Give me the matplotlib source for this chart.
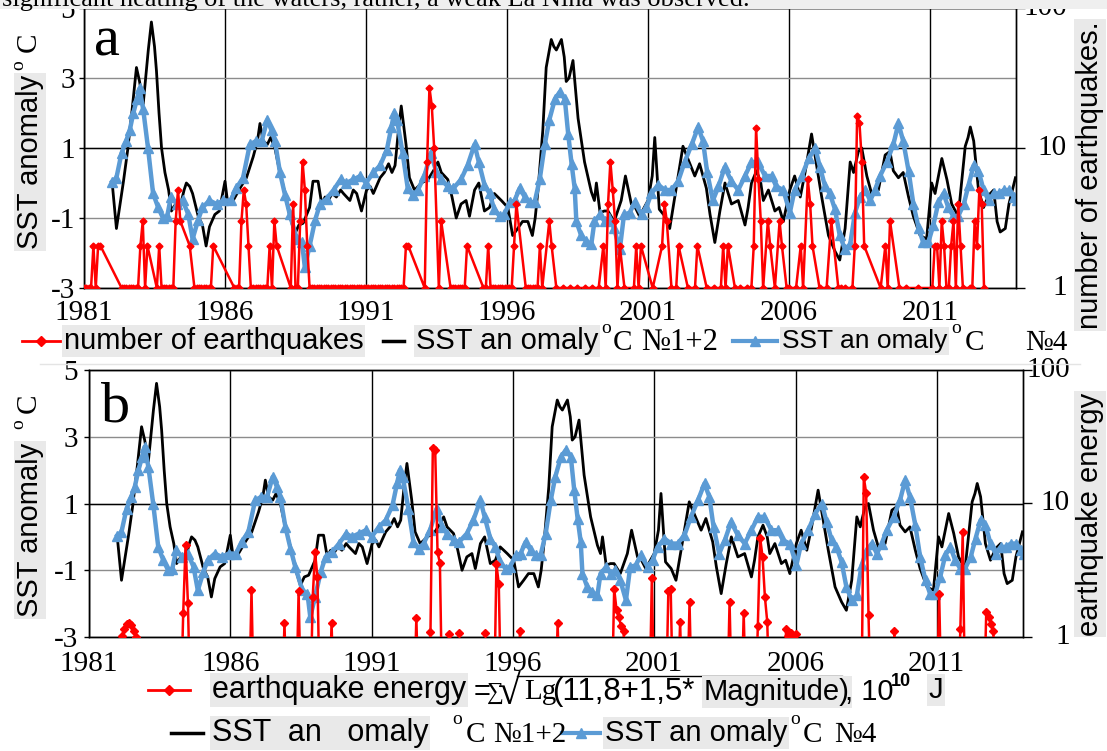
import numpy as np
import matplotlib
matplotlib.use("Agg")
import matplotlib.pyplot as plt
from matplotlib.ticker import NullLocator
from matplotlib.lines import Line2D
from matplotlib.patches import Rectangle
from matplotlib.transforms import blended_transform_factory

W, H = 1107, 751
SANS = ['Liberation Sans', 'DejaVu Sans']
SERIF = ['Liberation Serif', 'DejaVu Serif']
RED = '#ff0000'
BLUE = '#5b9bd5'
GREYBOX = '#e9e9e9'

# ---------------- data ----------------
tick_years = [1981, 1986, 1991, 1996, 2001, 2006, 2011]
tick_year_labels = ['1981', '1986', '1991', '1996', '2001', '2006', '2011']
sst_ticks = [-3, -1, 1, 3, 5]
sst_tick_labels = ['-3', '-1', '1', '3', '5']
eq_ticks = [1, 10, 100]
eq_tick_labels = ['1', '10', '100']

# SST anomaly Nino 1+2 (year, deg C)
nino12 = [
    (1982.00, 0.0), (1982.15, -1.3), (1982.40, 0.05), (1982.55, 0.95), (1982.72, 2.2),
    (1982.86, 3.3), (1982.97, 2.9), (1983.10, 2.26), (1983.28, 3.8), (1983.39, 4.6),
    (1983.50, 3.9), (1983.57, 3.2), (1983.66, 2.0), (1983.75, 1.0), (1983.87, 0.3),
    (1984.00, -0.2), (1984.10, -0.8), (1984.25, -0.6), (1984.40, -0.7), (1984.55, -0.2),
    (1984.63, 0.0), (1984.75, -0.1), (1984.85, -0.3), (1985.05, -0.95), (1985.20, -1.2),
    (1985.33, -1.8), (1985.45, -1.25), (1985.64, -0.9), (1985.80, -0.8), (1986.00, 0.05),
    (1986.10, -0.6), (1986.29, -0.5), (1986.53, -0.15), (1986.76, 0.15), (1987.00, 0.75),
    (1987.15, 1.2), (1987.24, 1.7), (1987.35, 1.2), (1987.50, 1.1), (1987.62, 1.3),
    (1987.77, 1.0), (1987.92, 0.4), (1988.07, -0.1), (1988.30, -0.95), (1988.48, -1.45),
    (1988.62, -1.2), (1988.77, -1.15), (1989.00, -0.7), (1989.12, 0.05), (1989.30, 0.05),
    (1989.43, -0.6), (1989.55, -0.4), (1989.66, -0.5), (1989.80, -0.3), (1989.95, -0.4),
    (1990.10, -0.2), (1990.20, -0.3), (1990.43, -0.5), (1990.55, -0.2), (1990.67, -0.3),
    (1990.84, -0.8), (1991.02, -0.2), (1991.15, -0.1), (1991.26, -0.3), (1991.50, 0.15),
    (1991.65, 0.3), (1991.80, 0.55), (1991.92, 0.3), (1992.03, 0.5), (1992.15, 1.5),
    (1992.25, 2.2), (1992.42, 1.1), (1992.54, 0.15), (1992.72, -0.2), (1992.85, -0.1),
    (1992.96, 0.0), (1993.20, 0.1), (1993.43, 0.4), (1993.55, 0.6), (1993.67, 0.3),
    (1993.90, 0.1), (1994.05, -0.4), (1994.20, -1.0), (1994.37, -0.6), (1994.55, -0.5),
    (1994.67, -0.95), (1994.85, -0.2), (1995.00, 0.0), (1995.20, -0.8), (1995.38, -0.7),
    (1995.55, -0.3), (1995.80, -0.5), (1996.03, -0.7), (1996.20, -1.5), (1996.38, -1.3),
    (1996.55, -1.1), (1996.74, -1.1), (1996.90, -1.5), (1997.00, -1.0), (1997.10, -0.2),
    (1997.27, 1.5), (1997.39, 3.3), (1997.57, 4.1), (1997.66, 3.9), (1997.75, 3.8),
    (1997.93, 4.1), (1998.03, 3.6), (1998.10, 2.9), (1998.20, 3.0), (1998.34, 3.5),
    (1998.52, 1.85), (1998.75, 0.6), (1998.99, -0.25), (1999.10, -0.5), (1999.17, 0.0),
    (1999.30, -0.85), (1999.45, -0.8), (1999.58, -0.8), (1999.80, -1.1), (2000.05, -0.5),
    (2000.20, 0.2), (2000.41, -0.6), (2000.55, -0.7), (2000.70, -0.95), (2001.00, -0.5),
    (2001.15, 0.2), (2001.24, 1.3), (2001.40, -0.75), (2001.60, -0.95), (2001.77, -1.3),
    (2002.00, -0.15), (2002.24, 1.05), (2002.41, 0.7), (2002.66, 0.2), (2002.83, 0.55),
    (2003.07, -0.15), (2003.20, -0.9), (2003.37, -1.7), (2003.55, -0.8), (2003.73, 0.0),
    (2003.96, -0.6), (2004.20, -0.5), (2004.44, -1.2), (2004.55, -0.7), (2004.67, 0.0),
    (2004.85, 0.35), (2005.00, 0.0), (2005.09, -0.5), (2005.27, -0.2), (2005.50, -0.8),
    (2005.65, -0.7), (2005.80, -1.1), (2006.03, -0.2), (2006.20, 0.2), (2006.40, -0.4),
    (2006.57, 0.3), (2006.80, 1.4), (2006.98, 0.5), (2007.16, -0.4), (2007.40, -1.5),
    (2007.63, -1.95), (2007.80, -2.2), (2007.99, -1.3), (2008.17, 0.6), (2008.29, 0.3),
    (2008.46, 0.9), (2008.58, 1.0), (2008.76, 0.2), (2008.93, -0.3), (2009.17, -0.2),
    (2009.41, 0.8), (2009.58, 0.9), (2009.70, 0.35), (2009.88, 0.15), (2010.05, 0.3),
    (2010.24, -0.4), (2010.41, -0.95), (2010.65, -1.5), (2010.88, -1.6), (2011.06, 0.0),
    (2011.18, -0.3), (2011.42, 0.7), (2011.60, 0.1), (2011.77, -0.6), (2012.00, -0.95),
    (2012.25, 1.05), (2012.35, 1.3), (2012.43, 1.6), (2012.55, 1.2), (2012.72, -0.2),
    (2012.90, -0.7), (2013.08, -0.35), (2013.26, -0.2), (2013.38, -1.1), (2013.49, -1.4),
    (2013.67, -1.3), (2013.80, -0.6), (2014.03, 0.15),
]

# SST anomaly Nino 4 (year, deg C)
nino4 = [
    (1982.00, 0.04), (1982.15, 0.15), (1982.33, 0.85), (1982.50, 1.2), (1982.62, 1.5),
    (1982.75, 2.0), (1982.88, 2.4), (1982.97, 2.7), (1983.10, 2.1), (1983.27, 1.0),
    (1983.45, -0.3), (1983.63, -0.7), (1983.80, -1.0), (1983.95, -0.95), (1984.08, -0.4),
    (1984.30, -0.6), (1984.50, -0.5), (1984.70, -0.9), (1984.85, -1.6), (1985.05, -1.05),
    (1985.20, -0.7), (1985.45, -0.5), (1985.70, -0.6), (1985.94, -0.5), (1986.20, -0.5),
    (1986.40, -0.15), (1986.64, 0.15), (1986.88, 1.1), (1987.10, 1.2), (1987.30, 1.2),
    (1987.50, 1.8), (1987.65, 1.5), (1987.77, 1.2), (1987.95, 0.3), (1988.13, -0.35),
    (1988.30, -0.9), (1988.55, -1.6), (1988.73, -1.7), (1988.83, -2.4), (1989.00, -1.8),
    (1989.20, -1.05), (1989.37, -0.6), (1989.60, -0.45), (1989.85, -0.2), (1990.10, 0.1),
    (1990.30, 0.0), (1990.55, 0.1), (1990.80, 0.2), (1991.00, 0.0), (1991.26, 0.3),
    (1991.50, 0.5), (1991.74, 0.95), (1991.90, 1.6), (1992.00, 2.0), (1992.10, 1.8),
    (1992.30, 0.85), (1992.48, -0.15), (1992.66, -0.35), (1992.84, -0.2), (1993.07, 0.2),
    (1993.30, 0.85), (1993.50, 0.3), (1993.67, 0.1), (1993.90, -0.1), (1994.10, -0.15),
    (1994.37, 0.1), (1994.60, 0.5), (1994.85, 1.1), (1995.00, 0.6), (1995.20, -0.05),
    (1995.38, -0.3), (1995.55, -0.75), (1995.74, -0.95), (1995.90, -0.9), (1996.10, -0.55),
    (1996.27, -0.5), (1996.45, -0.15), (1996.63, -0.4), (1996.80, -0.55), (1996.98, -0.55),
    (1997.16, 0.1), (1997.34, 1.1), (1997.50, 1.8), (1997.70, 2.4), (1997.87, 2.6),
    (1998.05, 2.4), (1998.17, 1.4), (1998.29, 0.55), (1998.40, -0.15), (1998.46, -1.1),
    (1998.63, -1.5), (1998.80, -1.65), (1998.99, -1.75), (1999.10, -1.1), (1999.30, -0.9),
    (1999.46, -1.1), (1999.63, -1.0), (1999.80, -1.3), (2000.00, -1.9), (2000.15, -0.9),
    (2000.35, -0.85), (2000.53, -0.55), (2000.77, -0.9), (2000.94, -0.7), (2001.12, -0.3),
    (2001.36, -0.05), (2001.60, -0.2), (2001.83, -0.2), (2002.07, 0.05), (2002.30, 0.6),
    (2002.55, 1.1), (2002.78, 1.6), (2002.95, 1.2), (2003.10, 0.3), (2003.30, -0.5),
    (2003.50, -0.1), (2003.72, 0.45), (2003.96, 0.05), (2004.20, -0.2), (2004.44, 0.2),
    (2004.67, 0.6), (2004.90, 0.6), (2005.15, 0.2), (2005.38, 0.2), (2005.55, -0.1),
    (2005.80, -0.2), (2006.03, -0.85), (2006.20, -0.2), (2006.45, 0.2), (2006.70, 0.7),
    (2006.93, 1.0), (2007.10, 0.45), (2007.28, -0.1), (2007.45, -0.3), (2007.63, -0.75),
    (2007.80, -1.5), (2007.99, -1.9), (2008.17, -1.75), (2008.34, -0.85), (2008.52, -0.4),
    (2008.70, -0.2), (2008.88, -0.5), (2009.05, -0.2), (2009.23, 0.2), (2009.47, 0.6),
    (2009.70, 1.1), (2009.88, 1.7), (2010.05, 1.2), (2010.24, 0.35), (2010.41, -0.6),
    (2010.60, -1.3), (2010.76, -1.7), (2010.94, -1.7), (2011.12, -1.2), (2011.30, -0.55),
    (2011.48, -0.3), (2011.65, -0.7), (2011.83, -0.95), (2012.00, -0.95), (2012.20, -0.6),
    (2012.37, -0.05), (2012.55, 0.5), (2012.72, 0.35), (2012.90, -0.2), (2013.08, -0.5),
    (2013.26, -0.3), (2013.44, -0.3), (2013.62, -0.2), (2013.80, -0.2), (2013.97, -0.4),
    (2014.10, -0.5),
]

# monthly number of earthquakes, Jan 1981 .. Dec 2013 (0 = no event, not drawn on log axis)
eq_first_year = 1981
eq_count = [
    [1, 1, 1, 1, 2, 1, 2, 2, 0, 0, 0, 0],   # 1981
    [0, 0, 0, 0, 1, 1, 1, 1, 1, 1, 1, 1],   # 1982
    [2, 3, 1, 2, 0, 0, 0, 1, 2, 1, 1, 1],   # 1983
    [1, 1, 1, 3, 5, 3, 0, 0, 0, 2, 0, 1],   # 1984
    [1, 1, 1, 1, 1, 1, 1, 2, 0, 0, 0, 0],   # 1985
    [0, 0, 0, 0, 1, 1, 1, 3, 5, 4, 2, 1],   # 1986
    [1, 1, 1, 1, 1, 1, 1, 2, 1, 3, 2, 0],   # 1987
    [0, 0, 0, 0, 1, 4, 1, 1, 3, 8, 5, 2],   # 1988
    [1, 1, 1, 1, 1, 1, 1, 1, 1, 1, 1, 1],   # 1989
    [1, 1, 1, 1, 1, 1, 1, 1, 1, 1, 1, 1],   # 1990
    [1, 1, 1, 1, 1, 1, 1, 1, 1, 1, 1, 1],   # 1991
    [1, 1, 1, 1, 1, 2, 2, 0, 0, 0, 0, 0],   # 1992
    [0, 1, 8, 27, 20, 10, 0, 1, 3, 0, 0, 0],  # 1993
    [1, 1, 1, 1, 1, 1, 1, 2, 0, 0, 0, 0],   # 1994
    [0, 0, 1, 1, 2, 1, 1, 1, 1, 1, 1, 1],   # 1995
    [1, 1, 1, 2, 4, 0, 0, 0, 1, 1, 1, 1],   # 1996
    [1, 1, 2, 1, 0, 0, 3, 2, 0, 1, 0, 0],   # 1997
    [1, 0, 0, 1, 0, 0, 1, 0, 0, 1, 0, 0],   # 1998
    [1, 0, 0, 1, 0, 2, 1, 4, 8, 5, 3, 1],   # 1999
    [2, 0, 1, 0, 0, 0, 1, 2, 1, 2, 0, 0],   # 2000
    [0, 0, 1, 0, 0, 0, 2, 4, 3, 0, 1, 0],   # 2001
    [1, 2, 0, 0, 0, 1, 0, 0, 1, 2, 0, 0],   # 2002
    [0, 1, 0, 0, 1, 0, 0, 1, 2, 1, 2, 0],   # 2003
    [0, 1, 0, 1, 0, 0, 1, 0, 1, 2, 14, 6],  # 2004
    [3, 1, 0, 3, 2, 0, 1, 0, 3, 2, 0, 1],   # 2005
    [1, 0, 0, 1, 0, 2, 1, 0, 6, 4, 2, 0],   # 2006
    [0, 1, 0, 0, 1, 0, 3, 0, 0, 1, 1, 0],   # 2007
    [1, 0, 0, 1, 2, 17, 15, 8, 2, 0, 0, 0],  # 2008
    [0, 0, 0, 1, 0, 2, 1, 3, 0, 0, 0, 1],   # 2009
    [0, 0, 1, 0, 0, 0, 0, 1, 0, 0, 0, 0],   # 2010
    [0, 1, 2, 2, 1, 3, 2, 1, 1, 2, 3, 1],   # 2011
    [4, 2, 1, 0, 0, 1, 1, 3, 2, 5, 4, 1],   # 2012
    [0, 0, 0, 0, 0, 0, 0, 0, 0, 0, 0, 0],   # 2013
]

# earthquake energy (months since Jan 1981, value); 0.3 = below the axis minimum
eq_energy_month = [12, 14, 15, 16, 17, 18, 19, 20, 21,
                   39, 40, 41, 42, 43,
                   68, 69, 70,
                   82, 83, 84,
                   88, 89, 90,
                   94, 95, 96, 97, 98,
                   102, 103, 104,
                   138, 139, 140,
                   144, 145, 146, 147, 148, 149, 150,
                   152, 153, 154,
                   156, 157, 158,
                   167, 168, 169,
                   172, 173, 174, 175,
                   182, 183, 184,
                   198, 199, 200,
                   222, 223, 224, 225, 226, 227, 228,
                   238, 239, 240,
                   245, 246, 247, 248,
                   250, 251, 252,
                   254, 255, 256,
                   271, 272, 273,
                   277, 278, 279,
                   283, 284, 285, 286, 287, 288, 289,
                   295, 296, 297, 298, 299, 300, 301,
                   328, 329, 330, 331, 332,
                   341, 342, 343,
                   360, 361, 362,
                   369, 370, 371, 372,
                   380, 381, 382, 383, 384, 385]
eq_energy_val = [0.3, 1.02, 1.15, 1.25, 1.27, 1.22, 1.1, 1.0, 0.3,
                 0.3, 1.5, 4.9, 1.8, 0.3,
                 0.3, 2.25, 0.3,
                 0.3, 1.27, 0.3,
                 0.3, 2.2, 0.3,
                 0.3, 2.0, 4.3, 2.8, 0.3,
                 0.3, 1.27, 0.3,
                 0.3, 1.39, 0.3,
                 0.3, 1.09, 26.0, 25.0, 4.3, 3.6, 0.3,
                 0.3, 1.05, 0.3,
                 0.3, 1.08, 0.3,
                 0.3, 1.08, 0.3,
                 0.3, 3.5, 2.5, 0.3,
                 0.3, 1.1, 0.3,
                 0.3, 1.27, 0.3,
                 0.3, 2.3, 1.6, 1.4, 1.2, 1.1, 0.3,
                 0.3, 2.77, 0.3,
                 0.3, 2.2, 2.3, 0.3,
                 0.3, 1.3, 0.3,
                 0.3, 1.83, 0.3,
                 0.3, 1.83, 0.3,
                 0.3, 1.5, 0.3,
                 0.3, 1.2, 5.5, 4.0, 2.0, 1.3, 0.3,
                 0.3, 1.15, 1.02, 1.08, 1.0, 1.05, 0.3,
                 0.3, 15.7, 12.0, 1.45, 0.3,
                 0.3, 1.1, 0.3,
                 0.3, 2.1, 0.3,
                 0.3, 1.15, 6.1, 0.3,
                 0.3, 1.55, 1.4, 1.25, 1.1, 0.3]

# ---------------- figure ----------------
fig = plt.figure(figsize=(W / 100, H / 100), dpi=100)
fig.patch.set_facecolor('white')


def px_axes(l, t, r, b):
    return fig.add_axes([l / W, 1 - b / H, (r - l) / W, (b - t) / H])


def style(ax, lpad, xpad, right_px):
    ax.set_xlim(1981, 2014.05)
    ax.set_ylim(-3, 5)
    ax.set_xticks(tick_years)
    ax.set_xticklabels(tick_year_labels)
    ax.set_yticks(sst_ticks)
    ax.set_yticklabels(sst_tick_labels)
    ax.grid(axis='y', color='#8c8c8c', lw=1.0)
    ax.grid(axis='x', color='black', lw=1.0)
    ax.axhline(1, color='black', lw=1.0, zorder=1)
    ax.set_axisbelow(True)
    ax.tick_params(axis='x', length=0, pad=xpad, labelsize=21)
    ax.tick_params(axis='y', direction='out', length=3.6, width=1, pad=lpad, labelsize=21)
    for lab in ax.get_xticklabels() + ax.get_yticklabels():
        lab.set_fontfamily(SERIF)
    for s in ax.spines.values():
        s.set_color('black')
        s.set_linewidth(1)
    ax2 = ax.twinx()
    ax2.set_yscale('log')
    ax2.set_ylim(1, 100)
    ax2.set_yticks(eq_ticks)
    ax2.yaxis.set_minor_locator(NullLocator())
    ax2.tick_params(axis='y', direction='out', length=6.5, width=1, labelright=False)
    tr = blended_transform_factory(fig.transFigure, ax2.transData)
    for v, s in zip(eq_ticks, eq_tick_labels):
        ax2.text(right_px / W, v, s, transform=tr, ha='right', va='center',
                 fontsize=21, family=SERIF, clip_on=False)
    for s in ax2.spines.values():
        s.set_color('black')
        s.set_linewidth(1)
    return ax2


axa = px_axes(84, 8, 1016, 288)
axb = px_axes(89, 370, 1023, 637)
ax2a = style(axa, 2.9, 9.0, 1067)
ax2b = style(axb, 4.3, 10.0, 1070)

n12_t = [p[0] for p in nino12]
n12_v = [p[1] for p in nino12]
n4_t = [p[0] for p in nino4]
n4_v = [p[1] for p in nino4]

for ax in (axa, axb):
    ax.plot(n12_t, n12_v, color='black', lw=2.0, zorder=3)
    ax.plot(n4_t, n4_v, color=BLUE, lw=3.2, marker='^', ms=7, mec=BLUE, zorder=4)

counts = np.array(eq_count, dtype=float).ravel()
months = np.arange(counts.size)
keep = counts > 0
ax2a.plot(eq_first_year + months[keep] / 12.0, counts[keep], color=RED, lw=1.8,
          marker='D', ms=3.5, zorder=5)

ax2b.plot(eq_first_year + np.array(eq_energy_month) / 12.0, eq_energy_val, color=RED,
          lw=1.8, marker='D', ms=4, zorder=5)


# ---------------- texts ----------------
def T(x, y, s, size=21, fam=SANS, box=False, ha='left', va='center', rot=0, **kw):
    bb = dict(boxstyle='square,pad=0.06', facecolor=GREYBOX, edgecolor='none') if box else None
    return fig.text(x / W, 1 - y / H, s, fontsize=size, family=fam, ha=ha, va=va,
                    rotation=rot, bbox=bb, **kw)


def L(x0, x1, y, color, lw, marker=None, ms=0):
    fig.add_artist(Line2D([x0 / W, x1 / W], [1 - y / H] * 2, color=color, lw=lw,
                          transform=fig.transFigure))
    if marker:
        fig.add_artist(Line2D([(x0 + x1) / 2 / W], [1 - y / H], marker=marker, ms=ms,
                              color=color, mec=color, linestyle='none',
                              transform=fig.transFigure))


# cropped line of page text at the top
fig.patches.append(Rectangle((0, 1 - 9 / H), 1, 9 / H, transform=fig.transFigure,
                             facecolor='#efefef', edgecolor='none', zorder=5))
T(2, 6, 'significant heating of the waters, rather, a weak La Niña was observed.',
  size=19, fam=SERIF, va='baseline', zorder=6)

# panel letters
T(94, 55, 'a', size=42, fam=SERIF, va='baseline')
T(101, 422, 'b', size=42, fam=SERIF, va='baseline')

# axis titles
T(30, 162, 'SST anomaly', box=True, ha='center', rot=90)
T(19, 65, 'o', size=14, fam=SERIF, ha='center', rot=90)
T(29, 42, 'C', fam=SERIF, ha='center', rot=90)
T(30, 530, 'SST anomaly', box=True, ha='center', rot=90)
T(19, 424, 'o', size=14, fam=SERIF, ha='center', rot=90)
T(29, 403, 'C', fam=SERIF, ha='center', rot=90)
T(1090, 175, 'number of earthquakes.', box=True, ha='center', rot=90)
T(1090, 514, 'earthquake energy', box=True, ha='center', rot=90)

# legend panel a
L(22, 60, 341, RED, 2, 'D', 5)
T(64, 341, 'number of earthquakes', box=True)
L(383, 404, 341, 'black', 2.5)
T(416, 341, 'SST an omaly', box=True)
T(601, 328, 'o', size=14, fam=SERIF)
T(613, 343, 'C', fam=SERIF)
T(641, 343, '№1+2', size=22, fam=SERIF)
L(733, 777, 341, BLUE, 3, '^', 7)
T(782, 341, 'SST an omaly', size=19, box=True)
T(951, 328, 'o', size=14, fam=SERIF)
T(965, 343, 'C', fam=SERIF)
T(1025, 343, '№4', fam=SERIF)

# separator
L(40, 1080, 364, '#e4e4e4', 1)

# legend panel b, row 1
L(148, 190, 690, RED, 2, 'D', 5)
T(212, 690, 'earthquake energy', size=22, box=True)
T(474, 692, '=')
T(487, 693, '∑', size=17, fam=SERIF)
T(498, 694, '√', size=30, fam=SERIF)
L(517, 842, 676, 'black', 1)
T(524, 692, 'Lg', fam=SERIF)
T(552, 692, '(11,8+1,5*', size=22.5)
T(704, 692, 'Magnitude)', box=True)
T(845, 692, ', 10')
T(891, 681, '10', size=13, weight='bold')
T(929, 690, 'J', box=True)

# legend panel b, row 2
L(171, 203, 733, 'black', 2.5)
T(212, 733, 'SST  an   omaly', size=22, box=True)
T(452, 720, 'o', size=14, fam=SERIF)
T(466, 735, 'C', fam=SERIF)
T(493, 735, '№1+2', fam=SERIF)
L(562, 600, 733, BLUE, 3, '^', 7)
T(605, 733, 'SST an omaly', size=21, box=True)
T(790, 720, 'o', size=14, fam=SERIF)
T(803, 735, 'C', fam=SERIF)
T(834, 735, '№4', fam=SERIF)

fig.savefig('out.png', dpi=100)
